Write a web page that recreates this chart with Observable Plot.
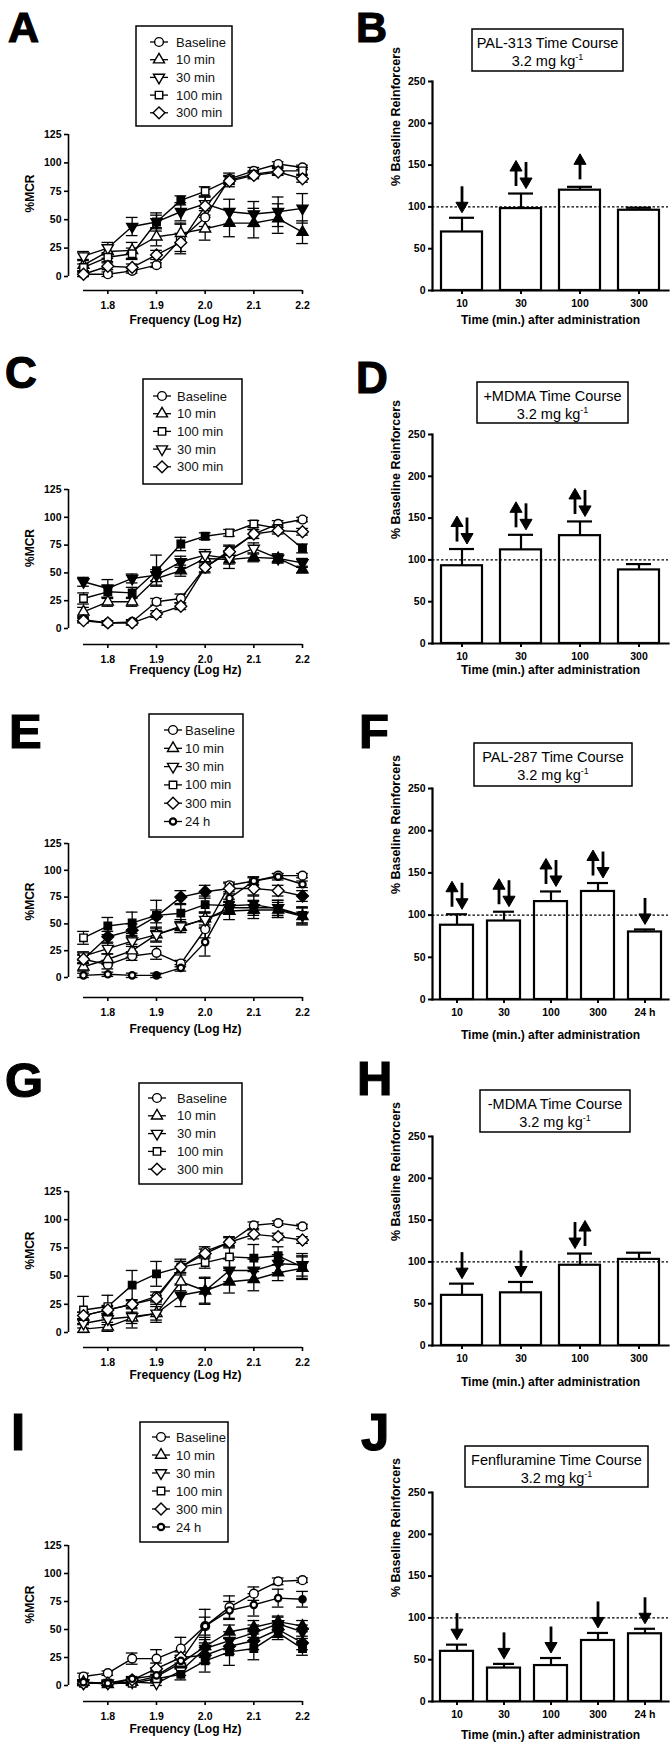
<!DOCTYPE html>
<html><head><meta charset="utf-8">
<script src="https://cdn.jsdelivr.net/npm/d3@7"></script>
<script src="https://cdn.jsdelivr.net/npm/@observablehq/plot@0.6"></script>
<style>
body{margin:0;background:#fff;}
#page{position:relative;width:670px;height:1750px;overflow:hidden;background:#fff;}
#page svg{position:absolute;}
</style></head><body><div id="page"></div>
<script>
const FONT = '"Liberation Sans", Arial, Helvetica, sans-serif';

// ---------- shared axes ----------
const freq = [1.75, 1.80, 1.85, 1.90, 1.95, 2.00, 2.05, 2.10, 2.15, 2.20];
const freqTicks = [1.8, 1.9, 2.0, 2.1, 2.2];
const mcrTicks = [0, 25, 50, 75, 100, 125];
const reinfTicks = [0, 50, 100, 150, 200, 250];

// ---------- Panel A ----------
const aSeries = ["Baseline", "10 min", "30 min", "100 min", "300 min"];
const aMean = [
  [2, 2, 5, 10, 33, 52, 86, 93, 99, 96],
  [10, 22, 23, 35, 38, 42, 47, 47, 51, 39],
  [18, 25, 44, 48, 57, 64, 57, 55, 57, 60],
  [8, 17, 20, 48, 67, 75, 85, 90, 93, 93],
  [2, 9, 8, 19, 30, 62, 84, 89, 92, 86]];
const aErr = [
  [2, 2, 2, 2, 13, 8, 5, 3, 2, 2],
  [5, 6, 7, 8, 9, 10, 12, 13, 13, 10],
  [4, 5, 8, 8, 8, 6, 11, 11, 13, 13],
  [3, 4, 5, 6, 4, 4, 3, 3, 3, 3],
  [2, 3, 3, 4, 8, 8, 5, 3, 3, 3]];
const aSig = [
  [0,0,0,0,0,0,0,0,0,0],
  [0,0,0,0,0,0,1,1,1,1],
  [0,0,1,1,1,0,1,1,1,1],
  [0,0,0,1,1,0,0,0,0,0],
  [0,0,0,0,0,0,0,0,0,0]];

// ---------- Panel B ----------
const bCats = ["10", "30", "100", "300"];
const bMean = [70, 98, 120, 96];
const bErr = [17, 18, 4, 3];
const bArrows = ["down", "updown", "up", ""];

// ---------- Panel C ----------
const cSeries = ["Baseline", "10 min", "100 min", "30 min", "300 min"];
const cMean = [
  [8, 5, 6, 24, 27, 55, 70, 85, 94, 98],
  [15, 24, 24, 45, 52, 63, 62, 64, 63, 53],
  [27, 33, 32, 52, 76, 83, 86, 94, 90, 72],
  [42, 36, 45, 48, 60, 66, 63, 72, 63, 59],
  [7, 5, 5, 13, 20, 55, 69, 85, 88, 87]];
const cErr = [
  [2, 2, 2, 3, 4, 5, 5, 4, 3, 2],
  [4, 4, 4, 6, 5, 6, 8, 4, 4, 3],
  [5, 6, 5, 14, 6, 3, 3, 3, 3, 4],
  [4, 8, 4, 5, 5, 5, 5, 5, 4, 4],
  [2, 2, 2, 3, 3, 4, 5, 4, 3, 3]];
const cSig = [
  [0,0,0,0,0,0,0,0,0,0],
  [0,0,0,0,1,0,1,1,1,1],
  [0,1,1,1,1,1,0,0,0,1],
  [1,1,1,1,1,0,0,0,1,1],
  [0,0,0,0,0,0,0,0,0,0]];

// ---------- Panel D ----------
const dCats = ["10", "30", "100", "300"];
const dMean = [93, 112, 129, 88];
const dErr = [20, 18, 17, 7];
const dArrows = ["updown", "updown", "updown", ""];

// ---------- Panel E ----------
const eSeries = ["Baseline", "10 min", "30 min", "100 min", "300 min", "24 h"];
const eMean = [
  [17, 12, 20, 23, 13, 45, 86, 90, 95, 95],
  [10, 17, 25, 40, 47, 55, 62, 63, 63, 57],
  [20, 27, 34, 40, 48, 54, 65, 65, 65, 58],
  [37, 48, 51, 58, 60, 68, 67, 68, 64, 58],
  [17, 38, 44, 57, 75, 80, 83, 83, 81, 76],
  [2, 3, 2, 2, 9, 33, 74, 90, 94, 87]];
const eErr = [
  [4, 4, 4, 6, 3, 8, 3, 3, 2, 2],
  [4, 5, 6, 6, 5, 6, 8, 8, 7, 8],
  [4, 5, 5, 7, 6, 7, 6, 7, 7, 7],
  [6, 8, 10, 14, 8, 8, 6, 8, 8, 8],
  [4, 5, 6, 6, 6, 6, 5, 6, 5, 5],
  [2, 2, 2, 2, 3, 13, 6, 4, 3, 3]];
const eSig = [
  [0,0,0,0,0,0,0,0,0,0],
  [0,0,0,0,1,0,1,1,1,1],
  [0,0,0,0,0,0,1,1,1,1],
  [0,1,1,1,1,1,1,1,1,1],
  [0,1,1,1,1,1,0,0,0,1],
  [0,0,0,1,0,0,0,0,0,0]];

// ---------- Panel F ----------
const fCats = ["10", "30", "100", "300", "24 h"];
const fMean = [88, 93, 116, 128, 80];
const fErr = [13, 11, 12, 10, 3];
const fArrows = ["updown", "updown", "updown", "updown", "down"];

// ---------- Panel G ----------
const gSeries = ["Baseline", "10 min", "30 min", "100 min", "300 min"];
const gMean = [
  [15, 20, 25, 32, 58, 72, 80, 95, 97, 94],
  [3, 5, 13, 17, 45, 37, 45, 47, 53, 57],
  [8, 12, 14, 17, 33, 37, 55, 55, 61, 60],
  [20, 23, 42, 52, 58, 62, 67, 66, 68, 58],
  [15, 20, 25, 30, 58, 70, 80, 87, 85, 82]];
const gErr = [
  [3, 4, 4, 4, 5, 4, 4, 3, 2, 2],
  [4, 4, 5, 6, 8, 11, 10, 10, 7, 10],
  [4, 5, 10, 8, 10, 12, 10, 10, 8, 10],
  [12, 10, 13, 11, 7, 5, 10, 12, 8, 10],
  [3, 3, 3, 3, 5, 4, 5, 4, 3, 3]];
const gSig = [
  [0,0,0,0,0,0,0,0,0,0],
  [0,0,0,0,0,1,1,1,1,1],
  [0,0,0,0,1,1,1,1,1,1],
  [0,0,1,1,0,0,0,1,1,1],
  [0,0,0,0,0,0,0,0,0,0]];

// ---------- Panel H ----------
const hCats = ["10", "30", "100", "300"];
const hMean = [60, 63, 96, 103];
const hErr = [14, 13, 14, 8];
const hArrows = ["down", "down", "downup", ""];

// ---------- Panel I ----------
const iSeries = ["Baseline", "10 min", "30 min", "100 min", "300 min", "24 h"];
const iMean = [
  [8, 11, 24, 24, 33, 53, 70, 82, 93, 94],
  [3, 1, 3, 8, 20, 35, 48, 52, 57, 53],
  [2, 2, 3, 2, 13, 33, 40, 47, 55, 48],
  [2, 2, 2, 6, 10, 22, 30, 33, 47, 33],
  [2, 2, 5, 15, 25, 27, 35, 40, 50, 38],
  [3, 2, 6, 9, 22, 53, 67, 72, 78, 77]];
const iErr = [
  [3, 2, 5, 8, 10, 15, 10, 6, 3, 2],
  [2, 2, 2, 4, 5, 8, 6, 6, 5, 5],
  [2, 2, 2, 2, 4, 8, 8, 7, 6, 6],
  [2, 2, 2, 3, 5, 10, 12, 10, 6, 6],
  [2, 2, 2, 5, 5, 7, 7, 8, 7, 6],
  [2, 2, 2, 4, 5, 8, 8, 10, 8, 7]];
const iSig = [
  [0,0,0,0,0,0,0,0,0,0],
  [0,0,0,0,0,1,1,1,1,1],
  [0,0,0,0,0,1,1,1,1,1],
  [0,0,0,0,1,1,1,1,1,1],
  [0,0,0,0,0,1,1,1,1,1],
  [0,0,0,0,0,0,0,0,0,1]];

// ---------- Panel J ----------
const jCats = ["10", "30", "100", "300", "24 h"];
const jMean = [60, 40, 43, 73, 81];
const jErr = [8, 5, 9, 9, 6];
const jArrows = ["down", "down", "down", "down", "down"];

// ---------- text ----------
const freqLabel = "Frequency (Log Hz)";
const mcrLabel = "%MCR";
const timeLabel = "Time (min.) after administration";
const reinfLabel = "% Baseline Reinforcers";
const doseLine = "3.2 mg kg";

// ---------- symbols ----------
const SQ3 = Math.sqrt(3);
const symTriUp = {draw(ctx, size) { const y = -Math.sqrt(size / (SQ3 * 3)); ctx.moveTo(0, y * 2); ctx.lineTo(-SQ3 * y, -y); ctx.lineTo(SQ3 * y, -y); ctx.closePath(); }};
const symTriDown = {draw(ctx, size) { const y = Math.sqrt(size / (SQ3 * 3)); ctx.moveTo(0, y * 2); ctx.lineTo(-SQ3 * y, -y); ctx.lineTo(SQ3 * y, -y); ctx.closePath(); }};
const symDiamond = {draw(ctx, size) { const h = Math.sqrt(size / 2) * 1.15; ctx.moveTo(0, -h); ctx.lineTo(h, 0); ctx.lineTo(0, h); ctx.lineTo(-h, 0); ctx.closePath(); }};
const symStyle = {
  "Baseline": {sym: d3.symbolCircle, r: 4.4, sw: 1.4},
  "10 min": {sym: symTriUp, r: 4.1, sw: 1.4},
  "30 min": {sym: symTriDown, r: 4.1, sw: 1.4},
  "100 min": {sym: d3.symbolSquare, r: 4.2, sw: 1.4},
  "300 min": {sym: symDiamond, r: 4.1, sw: 1.4},
  "24 h": {sym: d3.symbolCircle, r: 3.2, sw: 2.2}
};

const page = document.getElementById("page");
function place(svg, left, top) {
  svg.style.left = left + "px"; svg.style.top = top + "px";
  page.appendChild(svg);
}

function linePanel(p) {
  const rows = [];
  p.series.forEach((s, i) => p.mean[i].forEach((v, j) => rows.push({s, x: freq[j], y: v, e: p.err[i][j], sig: p.sig[i][j]})));
  const mt = 10, mb = 48;
  const ins = p.axis - p.zero;
  const h = mt + (p.axis - p.top) + mb;
  const cap = 0.012;
  const dotMarks = [];
  p.series.forEach(s => {
    const st = symStyle[s];
    const sub = rows.filter(d => d.s === s);
    dotMarks.push(Plot.dot(sub.filter(d => !d.sig), {x: "x", y: "y", symbol: st.sym, r: st.r, fill: "white", stroke: "black", strokeWidth: st.sw}));
    dotMarks.push(Plot.dot(sub.filter(d => d.sig), {x: "x", y: "y", symbol: st.sym, r: st.r, fill: "black", stroke: "black", strokeWidth: st.sw}));
  });
  const plot = Plot.plot({
    width: 335, height: h, marginLeft: 68, marginRight: 33, marginTop: mt, marginBottom: mb,
    x: {domain: [1.75, 2.2], insetLeft: 15},
    y: {domain: [0, 125], insetBottom: ins},
    style: {fontFamily: FONT, fontSize: "10.5px", fontWeight: "bold", color: "#000", background: "transparent", overflow: "visible"},
    marks: [
      Plot.ruleX([1.75], {y1: 0, y2: 125, dx: -15, strokeWidth: 1.6}),
      Plot.ruleY([0], {x1: 1.75, x2: 2.2, dy: ins, strokeWidth: 1.6}),
      Plot.axisY({ticks: mcrTicks, tickSize: 4, tickPadding: 3, label: null, strokeWidth: 1.6}),
      Plot.axisX({ticks: freqTicks, tickFormat: d3.format(".1f"), tickSize: 4, tickPadding: 7, label: null, strokeWidth: 1.6}),
      Plot.text([freqLabel], {frameAnchor: "bottom", dy: p.labelOff, fontSize: 12, fontWeight: "bold"}),
      Plot.text([mcrLabel], {frameAnchor: "left", dx: -38, rotate: -90, fontSize: 12, fontWeight: "bold"}),
      Plot.ruleX(rows, {x: "x", y1: d => Math.max(0, d.y - d.e), y2: d => d.y + d.e, strokeWidth: 1.3}),
      Plot.ruleY(rows, {y: d => d.y + d.e, x1: d => d.x - cap, x2: d => d.x + cap, strokeWidth: 1.3}),
      Plot.ruleY(rows, {y: d => Math.max(0, d.y - d.e), x1: d => d.x - cap, x2: d => d.x + cap, strokeWidth: 1.3}),
      Plot.line(rows, {x: "x", y: "y", z: "s", stroke: "black", strokeWidth: 1.4}),
      ...dotMarks
    ]
  });
  place(plot, 0, p.top - mt);
}

function barPanel(p) {
  const rows = p.cats.map((c, i) => ({c, y: p.mean[i], e: p.err[i]}));
  const upp = 250 / (p.zero - p.top);
  const arrows = [];
  p.cats.forEach((c, i) => {
    const a = p.arrows[i];
    if (!a) return;
    const base = p.mean[i] + p.err[i] + 7 * upp;
    const dirs = a === "updown" ? [["up", -5], ["down", 5]] : a === "downup" ? [["down", -5], ["up", 5]] : [[a, 0]];
    dirs.forEach(([dir, off]) => {
      const top = base + 24 * upp;
      if (dir === "up") arrows.push({c, off, dir, s1: base, s2: top - 5 * upp, hy: top - 5 * upp});
      else arrows.push({c, off, dir, s1: base + 5 * upp, s2: top, hy: base + 5 * upp});
    });
  });
  const arrowMarks = [];
  [-5, 0, 5].forEach(off => {
    const sub = arrows.filter(a => a.off === off);
    arrowMarks.push(Plot.ruleX(sub, {x: "c", y1: "s1", y2: "s2", dx: off, strokeWidth: 2.8}));
    arrowMarks.push(Plot.dot(sub.filter(a => a.dir === "up"), {x: "c", y: "hy", dx: off, symbol: symTriUp, r: 4.5, fill: "black", stroke: "black", strokeWidth: 1}));
    arrowMarks.push(Plot.dot(sub.filter(a => a.dir === "down"), {x: "c", y: "hy", dx: off, symbol: symTriDown, r: 4.5, fill: "black", stroke: "black", strokeWidth: 1}));
  });
  const mt = 10, mb = 52;
  const h = mt + (p.zero - p.top) + mb;
  const capInset = p.cats.length > 4 ? 6 : 8;
  const plot = Plot.plot({
    width: 335, height: h, marginLeft: 97, marginRight: 2, marginTop: mt, marginBottom: mb,
    x: {domain: p.cats, paddingInner: 0.3, paddingOuter: 0.15},
    y: {domain: [0, 250]},
    style: {fontFamily: FONT, fontSize: "10.5px", fontWeight: "bold", color: "#000", background: "transparent", overflow: "visible"},
    marks: [
      Plot.ruleX(rows, {x: "c", y1: "y", y2: d => d.y + d.e, strokeWidth: 2.2}),
      Plot.tickY(rows, {x: "c", y: d => d.y + d.e, strokeWidth: 2.2, insetLeft: capInset, insetRight: capInset}),
      Plot.barY(rows, {x: "c", y: "y", fill: "white", stroke: "black", strokeWidth: 2.2}),
      Plot.ruleY([100], {strokeDasharray: "2.5,2", strokeWidth: 1.3}),
      ...arrowMarks,
      Plot.frame({anchor: "left", strokeWidth: 2.2}),
      Plot.frame({anchor: "bottom", strokeWidth: 2.2}),
      Plot.axisY({ticks: reinfTicks, tickSize: 4, tickPadding: 3, label: null, strokeWidth: 2}),
      Plot.axisX({tickSize: 4, tickPadding: 5, label: null, strokeWidth: 2}),
      Plot.text([timeLabel], {frameAnchor: "bottom", dy: p.labelOff, fontSize: 12, fontWeight: "bold"}),
      Plot.text([reinfLabel], {frameAnchor: "left", dx: -37, rotate: -90, fontSize: 12.5, fontWeight: "bold"})
    ]
  });
  place(plot, 335, p.top - mt);
}

linePanel({series: aSeries, mean: aMean, err: aErr, sig: aSig, top: 134, zero: 276, axis: 290, labelOff: 33});
linePanel({series: cSeries, mean: cMean, err: cErr, sig: cSig, top: 489, zero: 628, axis: 644, labelOff: 29});
linePanel({series: eSeries, mean: eMean, err: eErr, sig: eSig, top: 843, zero: 977, axis: 997, labelOff: 35});
linePanel({series: gSeries, mean: gMean, err: gErr, sig: gSig, top: 1191, zero: 1332, axis: 1347, labelOff: 31});
linePanel({series: iSeries, mean: iMean, err: iErr, sig: iSig, top: 1545, zero: 1685, axis: 1701, labelOff: 31});

barPanel({cats: bCats, mean: bMean, err: bErr, arrows: bArrows, top: 81, zero: 290, labelOff: 33});
barPanel({cats: dCats, mean: dMean, err: dErr, arrows: dArrows, top: 434, zero: 643, labelOff: 30});
barPanel({cats: fCats, mean: fMean, err: fErr, arrows: fArrows, top: 788, zero: 999, labelOff: 39});
barPanel({cats: hCats, mean: hMean, err: hErr, arrows: hArrows, top: 1136, zero: 1345, labelOff: 40});
barPanel({cats: jCats, mean: jMean, err: jErr, arrows: jArrows, top: 1492, zero: 1701, labelOff: 37});

// ---------- overlay: panel letters, legends, title boxes ----------
const ov = d3.create("svg").attr("width", 670).attr("height", 1750)
  .style("left", "0px").style("top", "0px").style("pointer-events", "none")
  .attr("font-family", FONT);

const letters = [
  {t: "A", x: 8, base: 42, size: 43}, {t: "B", x: 356, base: 42, size: 43},
  {t: "C", x: 5, base: 388, size: 44}, {t: "D", x: 356, base: 393, size: 44},
  {t: "E", x: 9, base: 748, size: 49}, {t: "F", x: 359, base: 748, size: 49},
  {t: "G", x: 5, base: 1097, size: 49}, {t: "H", x: 357, base: 1095, size: 49},
  {t: "I", x: 11, base: 1450, size: 51}, {t: "J", x: 361, base: 1450, size: 51}];
letters.forEach(l => ov.append("text").attr("x", l.x).attr("y", l.base).attr("font-size", l.size)
  .attr("font-weight", "bold").attr("stroke", "black").attr("stroke-width", 1.2).text(l.t));

const legends = [
  {series: aSeries, x: 136, y: 26, w: 96, h: 100, first: 16, step: 17.7, mdx: 23, tdx: 40},
  {series: cSeries, x: 143, y: 379, w: 99, h: 105, first: 17, step: 17.7, mdx: 19, tdx: 34},
  {series: eSeries, x: 149, y: 714, w: 94, h: 123, first: 16, step: 18.3, mdx: 24, tdx: 36},
  {series: gSeries, x: 139, y: 1083, w: 103, h: 101, first: 15, step: 17.8, mdx: 18, tdx: 38},
  {series: iSeries, x: 140, y: 1422, w: 88, h: 120, first: 15, step: 18, mdx: 21, tdx: 36}];
legends.forEach(L => {
  ov.append("rect").attr("x", L.x).attr("y", L.y).attr("width", L.w).attr("height", L.h)
    .attr("fill", "white").attr("stroke", "black").attr("stroke-width", 1.5);
  L.series.forEach((s, i) => {
    const cy = L.y + L.first + i * L.step, mx = L.x + L.mdx;
    const st = symStyle[s];
    ov.append("line").attr("x1", mx - 9).attr("x2", mx + 9).attr("y1", cy).attr("y2", cy)
      .attr("stroke", "black").attr("stroke-width", 1.3);
    ov.append("path").attr("transform", `translate(${mx},${cy})`)
      .attr("d", d3.symbol(st.sym, Math.PI * st.r * st.r)())
      .attr("fill", "white").attr("stroke", "black").attr("stroke-width", st.sw);
    ov.append("text").attr("x", L.x + L.tdx).attr("y", cy + 4.5).attr("font-size", 13).attr("fill", "#111").text(s);
  });
});

const titles = [
  {t: "PAL-313 Time Course", x: 472, y: 29, w: 151, h: 42},
  {t: "+MDMA Time Course", x: 477, y: 382, w: 151, h: 41},
  {t: "PAL-287 Time Course", x: 474, y: 743, w: 158, h: 43},
  {t: "-MDMA Time Course", x: 480, y: 1090, w: 150, h: 42},
  {t: "Fenfluramine Time Course", x: 465, y: 1446, w: 183, h: 41}];
titles.forEach(T => {
  ov.append("rect").attr("x", T.x).attr("y", T.y).attr("width", T.w).attr("height", T.h)
    .attr("fill", "white").attr("stroke", "black").attr("stroke-width", 1.5);
  const cx = T.x + T.w / 2;
  ov.append("text").attr("x", cx).attr("y", T.y + 19).attr("text-anchor", "middle").attr("font-size", 14.5).text(T.t);
  const t2 = ov.append("text").attr("x", cx).attr("y", T.y + 37).attr("text-anchor", "middle").attr("font-size", 14.5);
  t2.append("tspan").text(doseLine);
  t2.append("tspan").attr("dy", -6).attr("font-size", 9).text("-1");
});

page.appendChild(ov.node());
</script></body></html>
